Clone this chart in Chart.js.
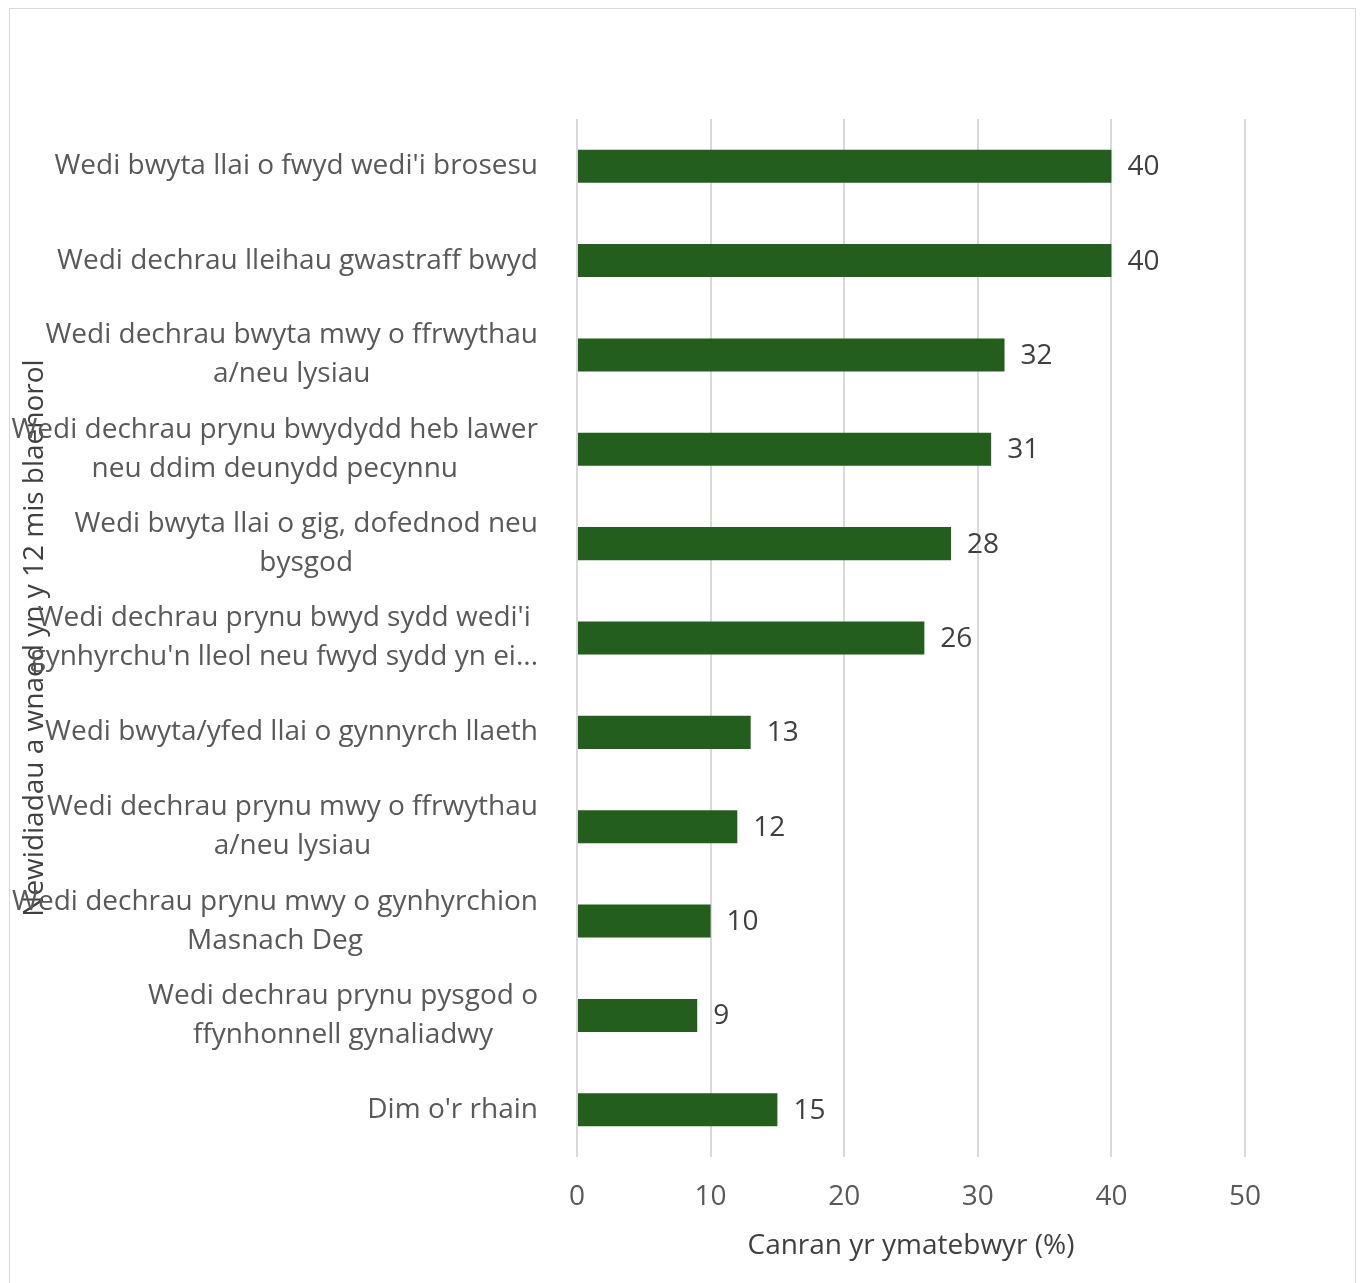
<!DOCTYPE html>
<html>
<head>
<meta charset="utf-8">
<script src="https://cdn.jsdelivr.net/npm/chart.js@4/dist/chart.umd.min.js"></script>
<style>
  html, body { margin: 0; padding: 0; background: #ffffff; }
  #wrap { position: absolute; left: 9px; top: 8px; width: 1347px; height: 1292px; border: 1px solid #d9d9d9; box-sizing: border-box; background: #fff; }
  #c { display: block; }
</style>
</head>
<body>
<div id="wrap"><canvas id="c" width="1345" height="1290"></canvas></div>
<script>
const categories = [
  ["Wedi bwyta llai o fwyd wedi'i brosesu"],
  ["Wedi dechrau lleihau gwastraff bwyd"],
  ["Wedi dechrau bwyta mwy o ffrwythau", "a/neu lysiau"],
  ["Wedi dechrau prynu bwydydd heb lawer", "neu ddim deunydd pecynnu"],
  ["Wedi bwyta llai o gig, dofednod neu", "bysgod"],
  ["Wedi dechrau prynu bwyd sydd wedi'i", "gynhyrchu'n lleol neu fwyd sydd yn ei..."],
  ["Wedi bwyta/yfed llai o gynnyrch llaeth"],
  ["Wedi dechrau prynu mwy o ffrwythau", "a/neu lysiau"],
  ["Wedi dechrau prynu mwy o gynhyrchion", "Masnach Deg"],
  ["Wedi dechrau prynu pysgod o", "ffynhonnell gynaliadwy"],
  ["Dim o'r rhain"]
];
const values = [40, 40, 32, 31, 28, 26, 13, 12, 10, 9, 15];
const xTicks = [0, 10, 20, 30, 40, 50];
const xTitle = "Canran yr ymatebwyr (%)";
const yTitle = "Newidiadau a wnaed yn y 12 mis blaenorol";

const FONT = "'Open Sans'";
const FS = 28;

const labelPlugin = {
  id: 'customLabels',
  afterDatasetsDraw(chart) {
    const ctx = chart.ctx;
    const yScale = chart.scales.y;
    const area = chart.chartArea;
    ctx.save();
    ctx.font = FS + "px " + FONT;
    ctx.textBaseline = 'middle';
    categories.forEach((lines, i) => {
      const yc = yScale.getPixelForTick(i);
      const widths = lines.map(l => ctx.measureText(l).width);
      const w = Math.max(...widths);
      const right = area.left - 39;
      const cx = right - w / 2;
      const lh = 39;
      const y0 = yc - (lines.length - 1) * lh / 2;
      ctx.fillStyle = '#595959';
      ctx.textAlign = 'center';
      lines.forEach((l, k) => ctx.fillText(l, cx, y0 + k * lh));
    });
    const meta = chart.getDatasetMeta(0);
    ctx.fillStyle = '#404040';
    ctx.textAlign = 'left';
    meta.data.forEach((bar, i) => {
      ctx.fillText(String(values[i]), bar.x + 16, bar.y + 1);
    });
    ctx.restore();
  }
};

new Chart(document.getElementById('c'), {
  type: 'bar',
  data: {
    labels: categories,
    datasets: [{
      data: values,
      backgroundColor: '#235E1D',
      borderWidth: 0,
      barPercentage: 0.35,
      categoryPercentage: 1.0
    }]
  },
  plugins: [labelPlugin],
  options: {
    indexAxis: 'y',
    responsive: false,
    animation: false,
    events: [],
    layout: { padding: { top: 110, right: 110, bottom: 0, left: 0 } },
    plugins: { legend: { display: false }, tooltip: { enabled: false } },
    scales: {
      x: {
        min: 0, max: 50,
        afterBuildTicks(scale) { scale.ticks = xTicks.map(v => ({ value: v })); },
        afterFit(scale) { scale.height = 142; },
        grid: { color: '#d9d9d9', lineWidth: 2, drawTicks: false },
        border: { display: false },
        ticks: { font: { family: FONT, size: FS }, color: '#595959', padding: 23 },
        title: { display: true, text: xTitle, font: { family: FONT, size: FS }, color: '#404040', padding: { top: 0, bottom: 36 } }
      },
      y: {
        afterFit(scale) { scale.width = 567; },
        grid: { display: false },
        border: { display: false },
        ticks: { display: false },
        title: { display: true, text: yTitle, font: { family: FONT, size: FS }, color: '#404040', padding: { top: 8, bottom: 0 } }
      }
    }
  }
});
</script>
</body>
</html>
